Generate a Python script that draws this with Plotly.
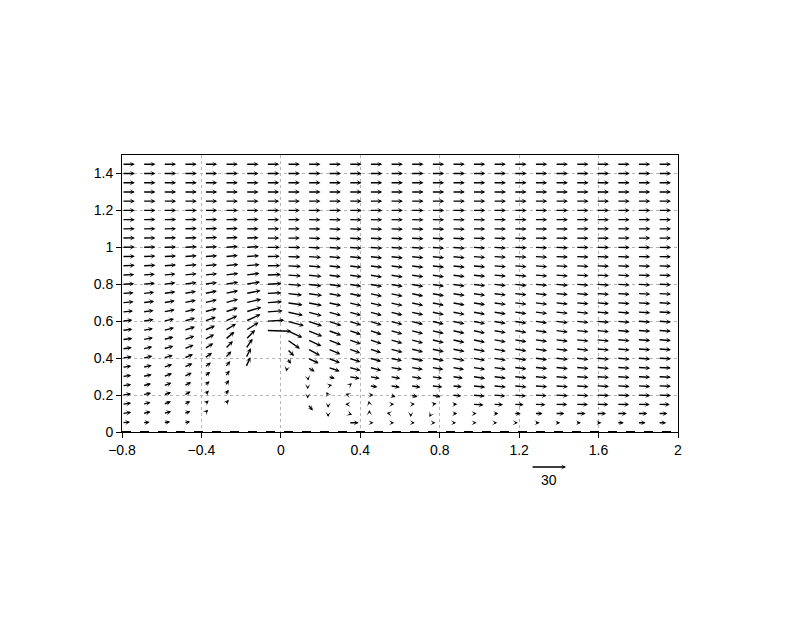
import math
import plotly.graph_objects as go

N = None

# ---- grid of the vector field ----
X_COLS = [-0.8, -0.696, -0.592, -0.488, -0.385, -0.281, -0.177, -0.073, 0.031,
          0.135, 0.238, 0.342, 0.446, 0.55, 0.654, 0.758, 0.862, 0.965, 1.069,
          1.173, 1.277, 1.381, 1.485, 1.588, 1.692, 1.796, 1.9]
Y_ROWS = [0.05, 0.10, 0.15, 0.20, 0.25, 0.30, 0.35, 0.40, 0.45, 0.50, 0.55, 0.60,
          0.65, 0.70, 0.75, 0.80, 0.85, 0.90, 0.95, 1.00, 1.05, 1.10, 1.15, 1.20,
          1.25, 1.30, 1.35, 1.40, 1.45]

# ---- vector magnitude per row (bottom row first) ----
SPEED = [
    [7, 6, 6, 5.5, N, N, N, N, N, N, N, 8.5, 3.5, 3.5, 3.5, 3.5, 3.5, 3.5, 3.5, 3.5, 4.5, 4.5, 4.5, 4.5, 6, 7, 7],
    [8, 7, 7, 6, 4.5, N, N, N, N, N, 3, 3, 3, 3, 3, 3.5, 4.5, 3.5, 4.5, 6, 7, 8, 8.5, 8.5, 8.5, 8.5, 8],
    [8, 7, 7, 6, 5, 5, N, N, N, 7, 3, 3, 3, 3.5, 3.5, 4.5, 4.5, 9.5, 8.5, 8.5, 9.5, 10.5, 10.5, 10.5, 10.5, 10.5, 10],
    [8, 7.5, 7, 6.5, 5.5, 5.5, N, N, N, 3, 3, 3, 3.5, 5, 6, 8, 8, 10.5, 10.5, 10.5, 10.5, 11, 11, 11, 11, 11, 11],
    [8, 7.5, 7.5, 7, 6, 6, N, N, N, 3, 3.5, 3.5, 7, 8.5, 8.5, 9.5, 8.5, 11, 11, 11, 11, 11, 11, 11, 11, 11, 11],
    [8, 8, 8, 7.5, 6.5, 6.5, N, N, N, 3.5, 6, 9.5, 9, 9, 9.5, 9.5, 9.5, 11, 11, 11, 11, 11, 11, 11, 11, 11, 11],
    [8, 8, 8, 8, 7, 7, 9.5, N, 3.5, 7, 10.5, 10.5, 10.5, 10.5, 10.5, 10.5, 10.5, 11, 11, 11, 11, 11, 11, 11, 11, 11, 11],
    [8.5, 8.5, 8.5, 8.5, 8, 8, 9.5, N, 6, 10.5, 11, 10.5, 10.5, 10.5, 11, 11, 11, 11, 11, 11, 11, 11, 11, 11, 11, 11, 11],
    [8.5, 8.5, 9, 9, 9, 9.5, 10.5, N, 8.5, 12, 11.5, 10.5, 10.5, 11, 11, 11, 11, 11, 11, 11, 11, 11, 11, 11, 11, 11, 11],
    [9, 9, 9, 9.5, 9.5, 10.5, 11.5, N, 13.5, 13, 12, 11, 11, 11, 11, 11, 11, 11, 11, 11, 11, 11, 11, 11, 11, 11, 11],
    [9, 9, 9.5, 10, 10, 11, 13, 21.5, 14.5, 13.5, 12, 11, 11, 11, 11, 11, 11, 11, 11, 11, 11, 11, 11, 11, 11, 11, 11],
    [9, 9.5, 9.5, 10, 10.5, 11.5, 14, 15.5, 15, 13, 12] + [11] * 16,
    [9.5, 9.5, 10, 10, 11, 11.5, 14, 14, 14, 12.5, 11.5] + [11] * 16,
    [10, 10, 10, 10.5, 11, 11.5, 13.5, 13.5, 13.5, 12.5, 11.5] + [11] * 16,
    [10, 10, 10.5, 10.5, 11, 11.5, 13, 13, 13, 12.5, 11.5] + [11] * 16,
    [10.5, 10.5, 10.5, 11, 11, 11.5, 12.5, 13, 12.5, 12, 11.5] + [11] * 16,
    [10.5, 10.5, 10.5, 11, 11, 11.5, 12, 12.5, 12, 12] + [11] * 17,
    [11, 11, 11, 11, 11, 11.5, 12, 12, 12, 11.5] + [11] * 17,
    [11] * 6 + [11.5] * 4 + [11] * 17,
    [11] * 6 + [11.5] * 3 + [11] * 18,
    [11] * 27,
    [11] * 27,
    [11] * 27,
    [11] * 27,
    [11] * 27,
    [11] * 27,
    [11] * 27,
    [11] * 27,
    [11] * 27,
]

# ---- vector direction (degrees, counter-clockwise from +x) per row ----
ANGLE = [
    [5, 5, 8, 10, N, N, N, N, N, N, N, 0, 0, 0, 0, 0, 0, 0, 0, 0, 0, 0, 0, 0, 0, 0, 0],
    [8, 12, 15, 20, 45, N, N, N, N, N, -90, -20, 90, 170, -90, -120, 0, 0, 0, 0, 0, 0, 0, 0, 0, 0, 0],
    [8, 14, 20, 25, 42, 50, N, N, N, -50, -90, 180, 100, 0, 5, 10, 0, -3, -2, -2, -2, -1, -1, -1, -1, -1, -1],
    [8, 14, 20, 27, 45, 55, N, N, N, -90, 120, 160, 0, -20, -15, -10, -6, -5, -4, -4, -3, -3, -3, -2, -2, -2, -2],
    [8, 14, 20, 27, 42, 55, N, N, N, -90, 10, 40, -8, -8, -8, -6, -6, -6, -5, -5, -4, -4, -4, -3, -3, -3, -2],
    [8, 13, 19, 26, 40, 52, N, N, N, -80, -15, -10, -10, -10, -10, -9, -8, -8, -7, -6, -5, -5, -4, -4, -4, -3, -3],
    [8, 13, 18, 25, 37, 50, 65, N, -100, -30, -18, -15, -15, -10, -10, -10, -10, -9, -8, -7, -6, -6, -5, -5, -4, -4, -3],
    [8, 12, 17, 23, 35, 48, 62, N, -55, -25, -22, -18, -15, -12, -12, -12, -11, -10, -9, -8, -7, -6, -6, -5, -5, -4, -3],
    [8, 12, 16, 22, 32, 45, 56, N, -45, -28, -23, -20, -18, -15, -14, -13, -12, -11, -10, -9, -8, -7, -6, -5, -5, -4, -4],
    [7, 11, 15, 20, 28, 40, 46, N, -35, -25, -22, -20, -19, -16, -15, -14, -13, -12, -10, -9, -8, -7, -6, -6, -5, -4, -4],
    [7, 10, 14, 18, 24, 31, 32, -2, -25, -22, -20, -18, -18, -16, -15, -14, -13, -12, -10, -9, -8, -7, -6, -6, -5, -4, -4],
    [6, 9, 12, 16, 20, 24, 25, 3, -15, -18, -18, -17, -17, -15, -14, -13, -12, -11, -10, -9, -8, -7, -6, -5, -5, -4, -4],
    [5, 8, 11, 14, 16, 18, 17, 4, -12, -15, -15, -15, -15, -14, -13, -12, -11, -10, -9, -8, -7, -6, -6, -5, -5, -4, -3],
    [5, 7, 10, 12, 13, 15, 13, 4, -8, -11, -12, -13, -13, -13, -12, -11, -10, -9, -8, -7, -7, -6, -5, -5, -4, -4, -3],
    [4, 6, 8, 10, 11, 12, 11, 3, -6, -8, -10, -11, -12, -12, -11, -10, -9, -8, -7, -6, -6, -5, -5, -4, -4, -3, -3],
    [3, 5, 7, 8, 8, 9, 9, 3, -5, -7, -8, -9, -10, -10, -10, -9, -8, -7, -6, -6, -5, -5, -4, -4, -3, -3, -2],
    [2, 4, 5, 6, 6, 7, 7, 2, -4, -6, -7, -8, -9, -9, -8, -8, -7, -6, -5, -5, -4, -4, -3, -3, -3, -2, -2],
    [2, 3, 4, 5, 5, 6, 5, 1, -3, -5, -6, -7, -7, -7, -7, -6, -6, -5, -4, -4, -4, -3, -3, -2, -2, -2, -2],
    [1, 2, 3, 4, 4, 5, 4, 1, -2, -4, -5, -6, -6, -6, -5, -5, -5, -4, -3, -3, -3, -2, -2, -2, -2, -1, -1],
    [1, 2, 2, 3, 3, 4, 3, 0, -1, -3, -4, -4, -4, -4, -4, -4, -4, -3, -3, -2, -2, -2, -1, -1, -1, -1, -1],
    [1, 1, 2, 2, 3, 3, 2, 0, 0, -2, -3, -3, -3, -3, -3, -3, -3, -2, -2, -2, -1, -1, -1, -1, 0, 0, 0],
    [1, 1, 1, 2, 2, 2, 1, 0, 0, -1, -2, -2, -2, -2, -2, -2, -2, -1, -1, -1, -1, -1, 0, 0, 0, 0, 0],
    [0, 1, 1, 1, 1, 1, 1, 0, 0, -1, -1, -1, -1, -1, -1, -1, -1, -1, 0, 0, 0, 0, 0, 0, 0, 0, 0],
    [0] * 27,
    [0] * 27,
    [0] * 27,
    [0] * 27,
    [0] * 27,
    [0] * 27,
]

X_TICKS = [-0.8, -0.4, 0, 0.4, 0.8, 1.2, 1.6, 2]
X_TICK_TEXT = ["\u22120.8", "\u22120.4", "0", "0.4", "0.8", "1.2", "1.6", "2"]
Y_TICKS = [0, 0.2, 0.4, 0.6, 0.8, 1, 1.2, 1.4]
Y_TICK_TEXT = ["0", "0.2", "0.4", "0.6", "0.8", "1", "1.2", "1.4"]
X_RANGE = [-0.8, 2.0]
Y_RANGE = [0.0, 1.5]
REF_VECTOR = 30
REF_LABEL = "30"

# ---- layout geometry (page body has an 8px margin) ----
W, H = 784, 602
ML, MT = 114, 147
plot_w, plot_h = 556, 277
MR = W - ML - plot_w
MB = H - MT - plot_h
sx = plot_w / (X_RANGE[1] - X_RANGE[0])  # px per x unit
sy = plot_h / (Y_RANGE[1] - Y_RANGE[0])  # px per y unit
PX_PER_SPEED = 35.0 / REF_VECTOR          # reference arrow: 30 -> 35 px

ARROW_STYLE = dict(showarrow=True, arrowhead=3, arrowsize=0.62, arrowwidth=1.4,
                   arrowcolor="#000000", standoff=0, startstandoff=0, text="")

annotations = []
for j, y0 in enumerate(Y_ROWS):
    for i, x0 in enumerate(X_COLS):
        s = SPEED[j][i]
        a = ANGLE[j][i]
        if s is None or a is None:
            continue
        r = math.radians(a)
        dx = s * PX_PER_SPEED * math.cos(r) / sx
        dy = s * PX_PER_SPEED * math.sin(r) / sy
        annotations.append(dict(x=x0 + dx, y=y0 + dy, ax=x0, ay=y0,
                                xref="x", yref="y", axref="x", ayref="y",
                                **ARROW_STYLE))

# reference vector below the plot (paper y so it is drawn outside the axes)
ref_x0 = 1.26
ref_dx = REF_VECTOR * PX_PER_SPEED / sx
ref_y_paper = -35.0 / plot_h
annotations.append(dict(x=ref_x0 + ref_dx, y=ref_y_paper, ax=ref_x0, ay=0,
                        xref="x", yref="paper", axref="x", ayref="pixel",
                        **ARROW_STYLE))
annotations.append(dict(x=ref_x0 + ref_dx / 2, y=ref_y_paper - 13.0 / plot_h,
                        xref="x", yref="paper", xanchor="center", yanchor="middle",
                        text=REF_LABEL, showarrow=False,
                        font=dict(size=14, color="black", family="Liberation Sans")))

fig = go.Figure()
# invisible trace to establish the axes
fig.add_trace(go.Scatter(x=X_RANGE, y=Y_RANGE, mode="markers",
                         marker=dict(opacity=0), hoverinfo="skip", showlegend=False))

# dashed ground line along the bottom
fig.add_shape(type="line", xref="x", yref="y", x0=X_RANGE[0], x1=X_RANGE[1],
              y0=0, y1=0, line=dict(color="black", width=2, dash="dash"))

axis_common = dict(showline=True, linecolor="black", linewidth=1, mirror=True,
                   ticks="outside", ticklen=5, tickwidth=1, tickcolor="black",
                   showgrid=True, gridcolor="#b4b4b4", gridwidth=1, griddash="dot",
                   zeroline=False,
                   tickfont=dict(size=14, color="black", family="Liberation Sans"))

fig.update_layout(
    width=W, height=H,
    margin=dict(l=ML, r=MR, t=MT, b=MB, autoexpand=False),
    paper_bgcolor="white", plot_bgcolor="white",
    xaxis=dict(range=X_RANGE, tickvals=X_TICKS, ticktext=X_TICK_TEXT, **axis_common),
    yaxis=dict(range=Y_RANGE, tickvals=Y_TICKS, ticktext=Y_TICK_TEXT, **axis_common),
    annotations=annotations,
    showlegend=False,
)

fig.write_html("out.html")
